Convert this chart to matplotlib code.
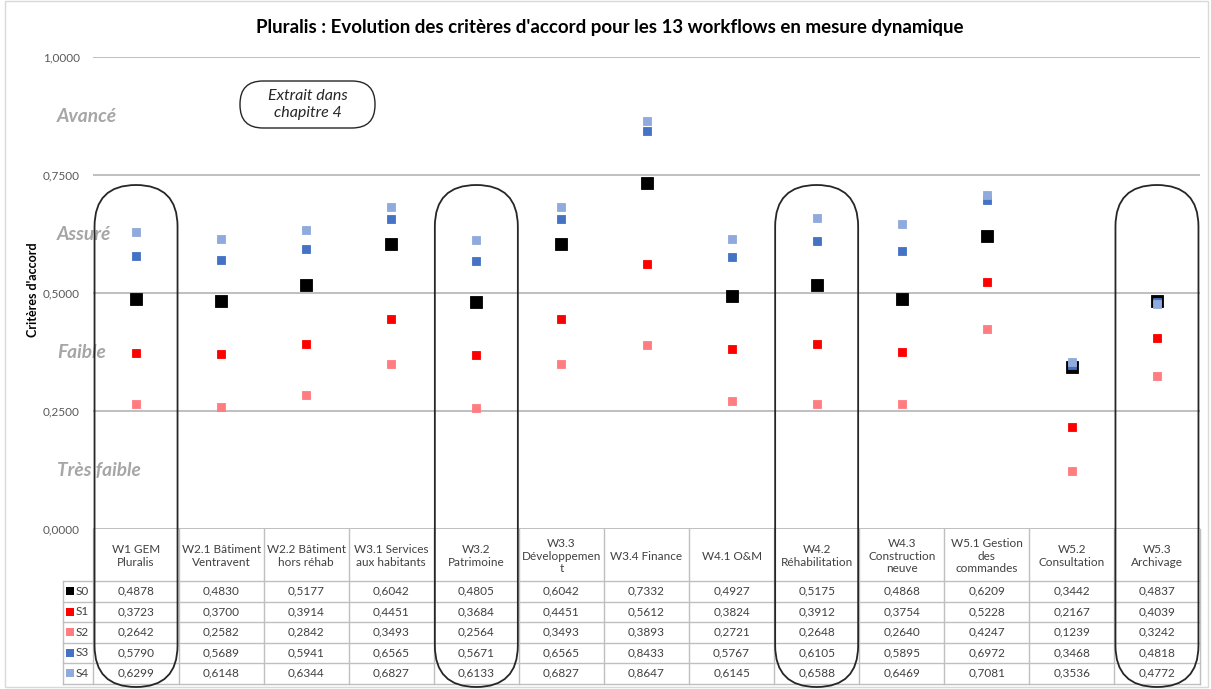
import matplotlib
matplotlib.use("Agg")
import matplotlib.pyplot as plt
from matplotlib.patches import FancyBboxPatch, Rectangle
from matplotlib.transforms import blended_transform_factory

# ---------------- data ----------------
workflows = ["W1 GEM\nPluralis", "W2.1 Bâtiment\nVentravent", "W2.2 Bâtiment\nhors réhab",
             "W3.1 Services\naux habitants", "W3.2\nPatrimoine", "W3.3\nDéveloppemen\nt",
             "W3.4 Finance", "W4.1 O&M", "W4.2\nRéhabilitation", "W4.3\nConstruction\nneuve",
             "W5.1 Gestion\ndes\ncommandes", "W5.2\nConsultation", "W5.3\nArchivage"]
series_names = ["S0", "S1", "S2", "S3", "S4"]
s0 = [0.4878, 0.4830, 0.5177, 0.6042, 0.4805, 0.6042, 0.7332, 0.4927, 0.5175, 0.4868, 0.6209, 0.3442, 0.4837]
s1 = [0.3723, 0.3700, 0.3914, 0.4451, 0.3684, 0.4451, 0.5612, 0.3824, 0.3912, 0.3754, 0.5228, 0.2167, 0.4039]
s2 = [0.2642, 0.2582, 0.2842, 0.3493, 0.2564, 0.3493, 0.3893, 0.2721, 0.2648, 0.2640, 0.4247, 0.1239, 0.3242]
s3 = [0.5790, 0.5689, 0.5941, 0.6565, 0.5671, 0.6565, 0.8433, 0.5767, 0.6105, 0.5895, 0.6972, 0.3468, 0.4818]
s4 = [0.6299, 0.6148, 0.6344, 0.6827, 0.6133, 0.6827, 0.8647, 0.6145, 0.6588, 0.6469, 0.7081, 0.3536, 0.4772]
series = [s0, s1, s2, s3, s4]
series_colors = ["#000000", "#ff0000", "#ff7c80", "#4472c4", "#8faadc"]
yticks = [0.0, 0.25, 0.5, 0.75, 1.0]
levels = ["Avancé", "Assuré", "Faible", "Très faible"]
level_vals = [0.875, 0.625, 0.375, 0.125]
highlighted = [0, 4, 8, 12]

title = "Pluralis : Evolution des critères d'accord pour les 13 workflows en mesure dynamique"

plt.rcParams['font.family'] = ['Lato', 'DejaVu Sans']

W, H = 1211, 689
fig = plt.figure(figsize=(W / 100, H / 100), dpi=100)
fig.patch.set_facecolor("white")

ax_left, ax_right, ax_top, ax_bot = 93.5, 1199.5, 57, 529
ax = fig.add_axes([ax_left / W, 1 - ax_bot / H, (ax_right - ax_left) / W, (ax_bot - ax_top) / H])
ax.set_xlim(-0.5, len(workflows) - 0.5)
ax.set_ylim(0, 1)
for sp in ax.spines.values():
    sp.set_visible(False)
ax.set_xticks([])
ax.set_yticks(yticks)
ax.set_yticklabels([f"{v:.4f}".replace(".", ",") for v in yticks], fontsize=8.5, color="#595959")
ax.tick_params(axis="y", length=0, pad=10)
for v in yticks:
    ax.axhline(v, color="#bfbfbf", lw=1.4, zorder=1)

x = list(range(len(workflows)))
for i, (name, vals, col) in enumerate(zip(series_names, series, series_colors)):
    ms = 8.2 if i == 0 else 6.0
    ax.plot(x, vals, ls="none", marker="s", ms=ms, color=col, mec=col, mew=0.6,
            zorder=3 + i, label=name)

# overlay in pixel coordinates (y measured from top)
ov = fig.add_axes([0, 0, 1, 1], zorder=5)
ov.set_xlim(0, W)
ov.set_ylim(0, H)
ov.axis("off")
ov.patch.set_alpha(0)

def py(y):
    return H - y

bt = blended_transform_factory(ax.transData, ov.transData)

# outer frame
ov.add_patch(Rectangle((5, py(687)), W - 8, 686, fill=False, ec="#d9d9d9", lw=1.0))

# title
ov.text(610, py(28), title, ha="center", va="center", fontsize=13.5, fontweight="bold", color="#000000")

# y label
ov.text(33, py(290), "Critères d'accord", ha="center", va="center", rotation=90,
        fontsize=9, fontweight="bold", color="#000000")

# level labels
for lab, v in zip(levels, level_vals):
    yy = ax.transData.transform((0, v))[1]
    ov.text(57, yy, lab, ha="left", va="center", fontsize=13.8, fontweight="bold",
            fontstyle="italic", color="#a6a6a6", zorder=2)

# 'Extrait dans chapitre 4' box
ov.add_patch(FancyBboxPatch((240, py(128)), 135, 47,
                            boxstyle="round,pad=0,rounding_size=23", fill=False,
                            ec="#262626", lw=1.0))
ov.text(307.5, py(104.5), "Extrait dans\nchapitre 4", ha="center", va="center",
        fontsize=11.5, fontstyle="italic", color="#262626", linespacing=1.25)

# data table
header_top, header_bot = 529, 581
row_h = 20.5
n_rows = len(series)
table_bot = header_bot + n_rows * row_h
grid_col = "#bfbfbf"
ncat = len(workflows)
for j in range(ncat + 1):
    ov.plot([j - 0.5, j - 0.5], [py(header_top), py(table_bot)], color=grid_col, lw=1.0,
            transform=bt, zorder=1)
for r in range(n_rows + 1):
    yl = header_bot + r * row_h
    ov.plot([63, ax_right], [py(yl), py(yl)], color=grid_col, lw=1.0, zorder=1)
ov.plot([63, 63], [py(header_bot), py(table_bot)], color=grid_col, lw=1.0, zorder=1)

for j, lab in enumerate(workflows):
    ov.text(j, py((header_top + header_bot) / 2 + 1), lab, ha="center", va="center",
            fontsize=8.5, color="#404040", transform=bt, linespacing=1.2)
for r, (name, vals, col) in enumerate(zip(series_names, series, series_colors)):
    yc = py(header_bot + (r + 0.5) * row_h)
    ov.add_patch(Rectangle((66, yc - 4), 8, 8, color=col, lw=0))
    ov.text(76, yc, name, ha="left", va="center", fontsize=8.5, color="#404040")
    for j, v in enumerate(vals):
        ov.text(j, yc, f"{v:.4f}".replace(".", ","), ha="center", va="center",
                fontsize=8.5, color="#404040", transform=bt)

# highlighted workflows (stadium shapes)
for i in highlighted:
    xc = ax.transData.transform((i, 0))[0]
    ov.add_patch(FancyBboxPatch((xc - 41.5, py(687)), 83, 687 - 185,
                                boxstyle="round,pad=0,rounding_size=41.5", fill=False,
                                ec="#262626", lw=1.3, zorder=6))

fig.savefig("out.png", dpi=100, facecolor="white")
